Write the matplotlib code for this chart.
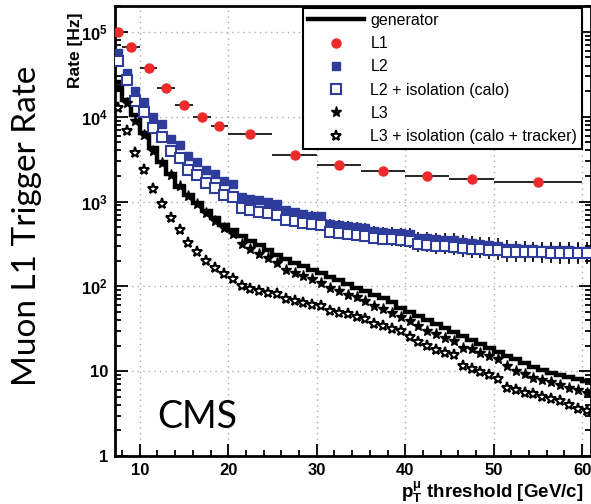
import numpy as np
import matplotlib
matplotlib.use("Agg")
import matplotlib.pyplot as plt
from matplotlib.lines import Line2D
from matplotlib.ticker import FixedLocator, FuncFormatter, LogLocator, NullFormatter, MultipleLocator

plt.rcParams["font.family"] = ["Liberation Sans", "DejaVu Sans"]
plt.rcParams["mathtext.fontset"] = "custom"
plt.rcParams["mathtext.rm"] = "Liberation Sans"
plt.rcParams["mathtext.bf"] = "Liberation Sans:bold"
plt.rcParams["mathtext.it"] = "Liberation Sans:italic"
plt.rcParams["mathtext.default"] = "bf"

# pT threshold bins (1 GeV wide, centres)
pt = np.arange(7.5, 61.0, 1.0)

# generator level rate [Hz]
gen_rate = [26000, 15800, 10600, 6500, 4300, 2900, 2100, 1500, 1180, 960,
            770, 640, 536, 468, 395, 345, 305, 270, 235, 212,
            190, 172, 158, 145, 130, 118, 106, 96, 88, 79,
            72, 65, 55, 50, 45, 40, 36, 32, 29, 26,
            23.5, 21, 19, 17, 15.3, 13.8, 12.5, 11.3, 10.3, 9.6,
            9.0, 8.5, 8.1, 7.7]

# L1 rate, coarse bins
l1_pt = [7.5, 9, 11, 13, 15, 17, 19, 22.5, 27.5, 32.5, 37.5, 42.5, 47.5, 55]
l1_halfwidth = [0.5, 1, 1, 1, 1, 1, 1, 2.5, 2.5, 2.5, 2.5, 2.5, 2.5, 5]
l1_rate = [100000, 66000, 37700, 21900, 13800, 10000, 7800, 6200, 3500,
           2700, 2300, 2000, 1860, 1720]

# L2
l2_rate = [56000, 33000, 20000, 15000, 10000, 8100, 5500, 4600, 3400, 2900,
           2350, 2120, 1730, 1600, 1120, 1080, 1030, 990, 940, 790,
           757, 716, 684, 667, 550, 530, 515, 500, 482, 447,
           437, 430, 422, 415, 375, 368, 362, 355, 350, 332,
           325, 318, 310, 302, 285, 280, 276, 272, 270, 268,
           266, 265, 264, 263]

# L2 + calo isolation
l2iso_rate = [45600, 27200, 15400, 11500, 7400, 5800, 3900, 3270, 2380, 2080,
              1660, 1450, 1210, 1120, 828, 791, 750, 723, 685, 614,
              587, 561, 546, 522, 435, 425, 412, 400, 390, 374,
              366, 357, 348, 341, 312, 306, 300, 296, 292, 280,
              276, 272, 268, 265, 255, 254, 253, 252, 251, 250,
              250, 249, 249, 248]

# relative statistical error on the L2 rates
l2_relerr = [0.01, 0.01, 0.02, 0.02, 0.03, 0.03, 0.04, 0.04, 0.05, 0.05,
             0.06, 0.06, 0.07, 0.07, 0.08, 0.08, 0.09, 0.09, 0.10, 0.10,
             0.11, 0.11, 0.12, 0.12, 0.13, 0.13, 0.14, 0.14, 0.15, 0.15,
             0.16, 0.16, 0.17, 0.17, 0.18, 0.18, 0.19, 0.19, 0.20, 0.20,
             0.21, 0.21, 0.22, 0.22, 0.23, 0.23, 0.24, 0.24, 0.25, 0.25,
             0.26, 0.26, 0.27, 0.27]

# L3
l3_rate = [22000, 14500, 8800, 6100, 3900, 2850, 2080, 1510, 1170, 946,
           736, 597, 490, 409, 312, 277, 244, 217, 190, 158,
           145, 132, 121, 110, 96, 88, 80, 74, 67, 59,
           54, 49, 44, 39, 34, 30, 27.2, 24.9, 22.7, 19,
           18.1, 16.6, 15.1, 13.8, 11.6, 10.1, 9.2, 8.4, 7.9, 7.4,
           6.8, 6.4, 6.0, 5.6]

# L3 + calo and tracker isolation
l3iso_rate = [12600, 6700, 3740, 2380, 1410, 946, 642, 459, 327, 254,
              199, 166, 138, 123, 101, 94, 89, 84, 80.5, 71,
              68, 64, 61, 59, 51, 49, 46.8, 44, 41.7, 35.7,
              34, 31.8, 29.8, 25.5, 21.8, 19.9, 17.8, 16.6, 15.4, 11.6,
              10.6, 9.8, 9.0, 8.05, 6.4, 6.0, 5.6, 5.4, 5.0, 4.7,
              4.4, 4.0, 3.6, 3.4]

blue = "#2e3c9c"
red = "#ee2b2b"

fig = plt.figure(figsize=(5.91, 5.04), dpi=100)
ax = fig.add_axes([115 / 591, 1 - 456 / 504, 476 / 591, 450 / 504])

# generator histogram as steps
edges = np.append(pt - 0.5, pt[-1] + 0.5)
ax.stairs(gen_rate, edges, baseline=None, color="black", linewidth=3.2, zorder=3)

# L1 points with bin widths
ax.errorbar(l1_pt, l1_rate, xerr=l1_halfwidth, fmt="o", color=red, markersize=6.5,
            ecolor="black", elinewidth=1.2, capsize=0, zorder=4)

l2_err = np.array(l2_rate) * np.array(l2_relerr)
l2iso_err = np.array(l2iso_rate) * np.array(l2_relerr)
ax.errorbar(pt, l2_rate, yerr=l2_err, fmt="s", color=blue, markersize=6,
            ecolor="black", elinewidth=1.2, capsize=0, zorder=5)
ax.errorbar(pt, l2iso_rate, yerr=l2iso_err, fmt="s", markerfacecolor="white",
            markeredgecolor=blue, markeredgewidth=1.5, markersize=6.5,
            ecolor="black", elinewidth=1.2, capsize=0, zorder=5)

ax.plot(pt, l3_rate, "*", color="black", markersize=8, zorder=6)
ax.plot(pt, l3iso_rate, "*", markerfacecolor="white", markeredgecolor="black",
        markeredgewidth=1.5, markersize=8, zorder=6)

ax.set_yscale("log")
ax.set_xlim(7.2, 61)
ax.set_ylim(1, 2.02e5)

ax.xaxis.set_major_locator(FixedLocator([10, 20, 30, 40, 50, 60]))
ax.xaxis.set_minor_locator(MultipleLocator(2))
ax.yaxis.set_major_locator(LogLocator(base=10, numticks=10))
ax.yaxis.set_minor_locator(LogLocator(base=10, subs=np.arange(2, 10), numticks=20))
ax.yaxis.set_minor_formatter(NullFormatter())


def decade_label(v, pos):
    n = int(round(np.log10(v)))
    if n == 0:
        return "1"
    if n == 1:
        return "10"
    return r"$10^{%d}$" % n


ax.yaxis.set_major_formatter(FuncFormatter(decade_label))

ax.tick_params(which="both", direction="in", right=True, top=False, width=1.3)
ax.tick_params(which="major", length=9, labelsize=12, pad=5)
ax.tick_params(which="minor", length=4.5)
for lab in ax.get_xticklabels() + ax.get_yticklabels():
    lab.set_fontweight("bold")

ax.grid(True, which="major", color="#aaaaaa", linestyle=(0, (1, 3)), linewidth=1)
for s in ax.spines.values():
    s.set_linewidth(2)

ax.text(1.0 - 7 / 476, -0.081, r"p$_{T}^{\mu}$ threshold [GeV/c]", transform=ax.transAxes,
        ha="right", va="center", fontsize=13.5, fontweight="bold")
ax.text(-0.084, 1 - 6 / 450, "Rate [Hz]", transform=ax.transAxes, rotation=90,
        ha="center", va="top", fontsize=12.5, fontweight="bold")

handles = [
    Line2D([], [], color="black", linewidth=3.2),
    Line2D([], [], linestyle="none", marker="o", color=red, markersize=6.5),
    Line2D([], [], linestyle="none", marker="s", color=blue, markersize=6),
    Line2D([], [], linestyle="none", marker="s", markerfacecolor="white",
           markeredgecolor=blue, markeredgewidth=1.5, markersize=6.5),
    Line2D([], [], linestyle="none", marker="*", color="black", markersize=8),
    Line2D([], [], linestyle="none", marker="*", markerfacecolor="white",
           markeredgecolor="black", markeredgewidth=1.5, markersize=8),
]
labels = ["generator", "L1", "L2", "L2 + isolation (calo)", "L3",
          "L3 + isolation (calo + tracker)"]
leg = ax.legend(handles, labels, loc="upper right", bbox_to_anchor=(467 / 476, 1 - 2 / 450),
                borderaxespad=0, fancybox=False, framealpha=1, edgecolor="black",
                fontsize=11.5, handlelength=3.5, handletextpad=0.4, labelspacing=0.52,
                borderpad=0.3)
leg.get_frame().set_linewidth(1.5)
leg.set_zorder(10)

fig.text(27 / 591, 1 - 226 / 504, "Muon L1 Trigger Rate", rotation=90, ha="center",
         va="center", fontsize=24, family="Lato")
fig.text(157 / 591, 1 - 428 / 504, "CMS", ha="left", va="baseline", fontsize=27,
         family="Lato")

fig.savefig("out.png", dpi=100)
